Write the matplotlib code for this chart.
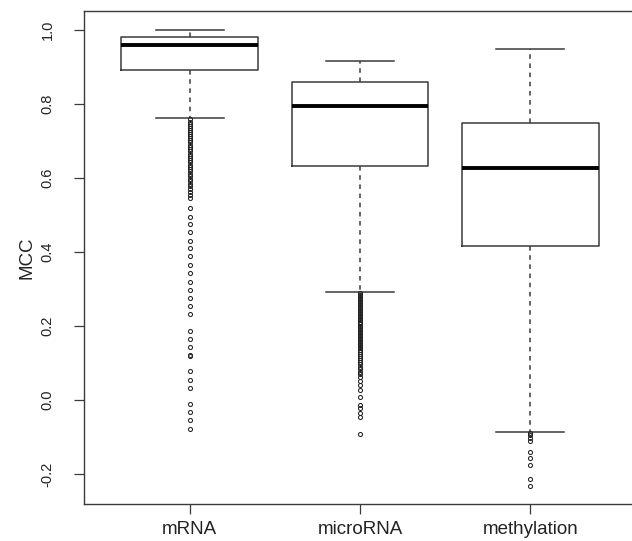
import matplotlib
matplotlib.use("Agg")
import matplotlib.pyplot as plt

plt.rcParams['font.family'] = ['Liberation Sans', 'DejaVu Sans']

categories = ["mRNA", "microRNA", "methylation"]
medians = [0.960, 0.795, 0.626]
q1s = [0.892, 0.631, 0.416]
q3s = [0.980, 0.859, 0.748]
whisk_lo = [0.762, 0.291, -0.086]
whisk_hi = [1.000, 0.917, 0.949]

mrna_fliers = [0.758, 0.752, 0.747, 0.741, 0.736, 0.730, 0.725, 0.719, 0.713,
               0.708, 0.702, 0.696, 0.690, 0.684, 0.678, 0.672, 0.666, 0.660,
               0.654, 0.648, 0.642, 0.636, 0.630, 0.624, 0.618, 0.612, 0.605,
               0.598, 0.591, 0.584, 0.577, 0.570, 0.562, 0.553, 0.545, 0.520,
               0.495, 0.475, 0.453, 0.430, 0.412, 0.389, 0.365, 0.342, 0.320,
               0.297, 0.275, 0.254, 0.232, 0.187, 0.165, 0.143, 0.122, 0.119,
               0.077, 0.054, 0.033, -0.011, -0.033, -0.055, -0.078]
microrna_fliers = [0.288, 0.284, 0.280, 0.276, 0.272, 0.268, 0.264, 0.260,
                   0.256, 0.252, 0.248, 0.244, 0.240, 0.236, 0.232, 0.228,
                   0.224, 0.220, 0.216, 0.212, 0.208, 0.204, 0.200, 0.196,
                   0.192, 0.188, 0.184, 0.180, 0.176, 0.172, 0.168, 0.164,
                   0.160, 0.156, 0.152, 0.148, 0.144, 0.140, 0.135, 0.130,
                   0.125, 0.120, 0.114, 0.108, 0.102, 0.096, 0.090, 0.083,
                   0.076, 0.069, 0.062, 0.050, 0.040, 0.027, 0.009, -0.013,
                   -0.022, -0.035, -0.045, -0.092]
methylation_fliers = [-0.090, -0.096, -0.103, -0.110, -0.142, -0.158, -0.176,
                      -0.214, -0.233]
fliers = [mrna_fliers, microrna_fliers, methylation_fliers]

yticks = [-0.2, 0.0, 0.2, 0.4, 0.6, 0.8, 1.0]
ytick_labels = ["-0.2", "0.0", "0.2", "0.4", "0.6", "0.8", "1.0"]

fig = plt.figure(figsize=(6.32, 5.41), dpi=100)
ax = fig.add_axes([84 / 632, 1 - 504.3 / 541, 552 / 632, (504.3 - 10.7) / 541])

stats = []
for i, name in enumerate(categories):
    stats.append(dict(label=name, med=medians[i], q1=q1s[i], q3=q3s[i],
                      whislo=whisk_lo[i], whishi=whisk_hi[i], fliers=fliers[i]))

edge = '#3a3a3a'
ax.bxp(stats, positions=[1, 2, 3], widths=0.8, capwidths=0.4,
       showfliers=True,
       boxprops=dict(color=edge, linewidth=1.1),
       medianprops=dict(color='black', linewidth=2.8, solid_capstyle='butt'),
       whiskerprops=dict(color=edge, linewidth=1.1, linestyle=(0, (3, 3))),
       capprops=dict(color=edge, linewidth=1.1),
       flierprops=dict(marker='o', markersize=2.9, markerfacecolor='none',
                       markeredgecolor='#222222', markeredgewidth=0.75,
                       linestyle='none'))

ax.set_xlim(0.38, 3.62)
ax.set_ylim(-0.282, 1.052)
ax.set_yticks(yticks)
ax.set_yticklabels(ytick_labels, rotation=90, va='center', fontsize=10.5,
                   color='#222222')
ax.set_xticks([1, 2, 3])
ax.set_xticklabels(categories, fontsize=13.5, color='#222222')
ax.tick_params(axis='both', length=7, width=0.9, color=edge)
ax.tick_params(axis='y', pad=14)
ax.tick_params(axis='x', pad=5)
for side, sp in ax.spines.items():
    sp.set_color(edge)
    sp.set_linewidth(1.0)
ax.set_ylabel("MCC", fontsize=13.5, color='#222222', labelpad=4)

fig.savefig("out.png", dpi=100)
